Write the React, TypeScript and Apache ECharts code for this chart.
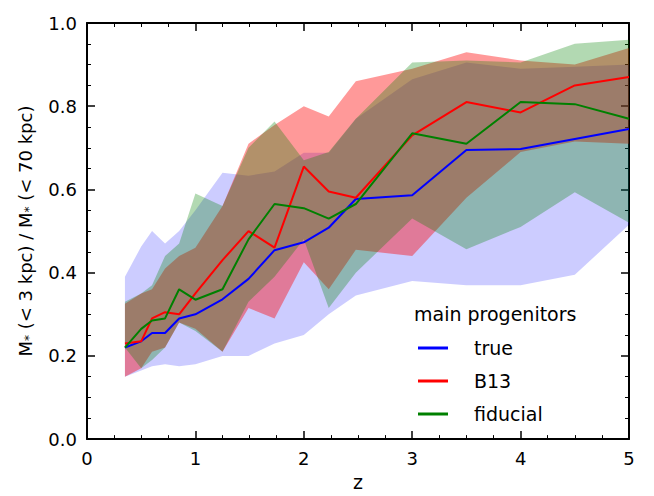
import { useEffect, useRef } from "react";
import * as echarts from "echarts";

const z = [0.35, 0.5, 0.6, 0.72, 0.85, 1.0, 1.25, 1.49, 1.73, 2.0, 2.23, 2.48, 3.0, 3.5, 4.0, 4.5, 5.0];

const trueMid = [0.22, 0.235, 0.255, 0.255, 0.29, 0.3, 0.336, 0.385, 0.454, 0.473, 0.508, 0.577, 0.586, 0.695, 0.697, 0.721, 0.745];
const trueLo = [0.15, 0.165, 0.175, 0.18, 0.175, 0.18, 0.2, 0.2, 0.23, 0.25, 0.3, 0.345, 0.38, 0.37, 0.37, 0.395, 0.515];
const trueHi = [0.39, 0.463, 0.5, 0.47, 0.5, 0.55, 0.64, 0.633, 0.643, 0.688, 0.688, 0.77, 0.865, 0.905, 0.89, 0.895, 0.9];

const b13Mid = [0.23, 0.235, 0.29, 0.305, 0.3, 0.35, 0.43, 0.5, 0.46, 0.655, 0.595, 0.58, 0.73, 0.81, 0.785, 0.85, 0.87];
const b13Lo = [0.15, 0.17, 0.21, 0.22, 0.28, 0.265, 0.21, 0.315, 0.29, 0.425, 0.36, 0.455, 0.44, 0.58, 0.69, 0.715, 0.71];
const b13Hi = [0.325, 0.35, 0.36, 0.41, 0.44, 0.46, 0.56, 0.71, 0.755, 0.8, 0.775, 0.86, 0.89, 0.93, 0.91, 0.9, 0.94];

const fidMid = [0.22, 0.265, 0.285, 0.29, 0.36, 0.335, 0.36, 0.48, 0.565, 0.555, 0.53, 0.565, 0.735, 0.71, 0.81, 0.805, 0.77];
const fidLo = [0.22, 0.17, 0.19, 0.22, 0.28, 0.26, 0.21, 0.33, 0.39, 0.48, 0.315, 0.4, 0.53, 0.456, 0.51, 0.593, 0.52];
const fidHi = [0.33, 0.35, 0.37, 0.44, 0.47, 0.59, 0.56, 0.7, 0.763, 0.67, 0.69, 0.77, 0.905, 0.91, 0.905, 0.95, 0.96];

const font = "DejaVu Sans";

function band(lo: number[], hi: number[], color: string) {
  return {
    type: "custom",
    silent: true,
    data: [[0, 0]],
    renderItem: (_p: any, api: any) => {
      const pts: number[][] = [];
      z.forEach((x, i) => pts.push(api.coord([x, hi[i]])));
      for (let i = z.length - 1; i >= 0; i--) pts.push(api.coord([z[i], lo[i]]));
      return { type: "polygon", shape: { points: pts }, style: { fill: color } };
    },
  };
}

function line(name: string, mid: number[], color: string) {
  return {
    name,
    type: "line",
    data: z.map((x, i) => [x, mid[i]]),
    showSymbol: false,
    lineStyle: { color, width: 2 },
    itemStyle: { color },
    z: 5,
  };
}

const tick = { show: true, inside: true, length: 8, lineStyle: { color: "#000", width: 1.5 } };
const minor = { show: true, length: 4, lineStyle: { color: "#000", width: 1 } };
const axLine = { show: true, onZero: false, lineStyle: { color: "#000", width: 2 } };

export default function App() {
  const ref = useRef<HTMLDivElement>(null);

  useEffect(() => {
    if (!ref.current) return;
    const chart = echarts.init(ref.current, null, { renderer: "svg" });
    chart.setOption({
      animation: false,
      grid: { left: 77, right: 25, top: 15, bottom: 36 },
      xAxis: [
        {
          type: "value", min: 0, max: 5, interval: 1,
          name: "z", nameLocation: "middle", nameGap: 30,
          nameTextStyle: { fontFamily: font, fontSize: 19, color: "#000" },
          axisLine: axLine,
          axisTick: tick, minorTick: { ...minor, splitNumber: 4 },
          axisLabel: { fontFamily: font, fontSize: 18, color: "#000", margin: 10 },
          splitLine: { show: false },
        },
        {
          type: "value", min: 0, max: 5, interval: 1, position: "top",
          axisLine: axLine,
          axisTick: tick, minorTick: { ...minor, splitNumber: 4 },
          axisLabel: { show: false }, splitLine: { show: false },
        },
      ],
      yAxis: [
        {
          type: "value", min: 0, max: 1, interval: 0.2,
          name: "M{s|*} (< 3 kpc) / M{s|*} (< 70 kpc)", nameLocation: "middle", nameGap: 52,
          nameTextStyle: {
            fontFamily: font, fontSize: 18, color: "#000",
            rich: { s: { fontFamily: font, fontSize: 12, color: "#000", verticalAlign: "bottom", padding: [8, 0, 0, 0] } },
          },
          axisLine: axLine,
          axisTick: tick, minorTick: { ...minor, splitNumber: 4 },
          axisLabel: { fontFamily: font, fontSize: 18, color: "#000", margin: 10, formatter: (v: number) => v.toFixed(1) },
          splitLine: { show: false },
        },
        {
          type: "value", min: 0, max: 1, interval: 0.2, position: "right",
          axisLine: axLine,
          axisTick: tick, minorTick: { ...minor, splitNumber: 4 },
          axisLabel: { show: false }, splitLine: { show: false },
        },
      ],
      legend: {
        orient: "vertical", left: 405, top: 324,
        itemWidth: 30, itemHeight: 3, itemGap: 11, icon: "rect",
        data: ["true", "B13", "fiducial"],
        textStyle: { fontFamily: font, fontSize: 19, lineHeight: 22, color: "#000", padding: [0, 0, 0, 21] },
      },
      graphic: [
        { type: "text", left: 406, top: 296, style: { text: "main progenitors", fontFamily: font, fontSize: 19, fill: "#000" } },
      ],
      series: [
        band(trueLo, trueHi, "rgba(0,0,255,0.2)"),
        band(b13Lo, b13Hi, "rgba(255,0,0,0.4)"),
        band(fidLo, fidHi, "rgba(0,128,0,0.3)"),
        line("true", trueMid, "#0000ff"),
        line("B13", b13Mid, "#ff0000"),
        line("fiducial", fidMid, "#008000"),
        { type: "line", xAxisIndex: 1, yAxisIndex: 1, data: [], silent: true },
      ],
    });
    return () => chart.dispose();
  }, []);

  return <div ref={ref} style={{ width: 646, height: 488 }} />;
}
